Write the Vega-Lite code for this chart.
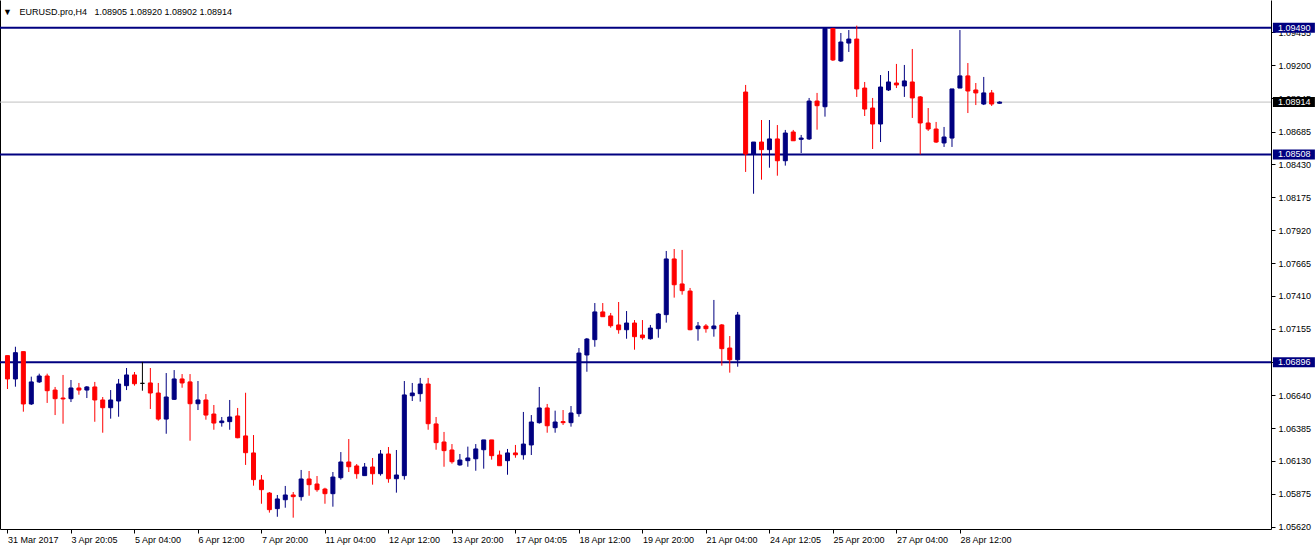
{
  "$schema": "https://vega.github.io/schema/vega-lite/v6.json",
  "width": 1271,
  "height": 529,
  "autosize": {"type": "none"},
  "padding": {"left": 0, "top": 0, "right": 44, "bottom": 25},
  "background": "white",
  "title": {
    "text": "▼\u00a0\u00a0 EURUSD.pro,H4\u00a0\u00a0 1.08905 1.08920 1.08902 1.08914",
    "anchor": "start",
    "frame": "group",
    "orient": "top",
    "offset": 0,
    "baseline": "alphabetic",
    "dy": 24,
    "dx": 3,
    "font": "Liberation Sans",
    "fontSize": 9,
    "fontWeight": "normal",
    "color": "#000000"
  },
  "config": {
    "view": {"stroke": null},
    "axis": {"labelFont": "Liberation Sans", "labelFontSize": 9, "labelColor": "#000000", "domainColor": "#000000", "tickColor": "#000000", "grid": false, "title": null}
  },
  "datasets": {
    "candles": [
      {"i":0,"o":1.06947,"h":1.06947,"l":1.06688,"c":1.06766},
      {"i":1,"o":1.06766,"h":1.07016,"l":1.06706,"c":1.06970},
      {"i":2,"o":1.06978,"h":1.06978,"l":1.06512,"c":1.06572},
      {"i":3,"o":1.06572,"h":1.06784,"l":1.06564,"c":1.06743},
      {"i":4,"o":1.06743,"h":1.06807,"l":1.06735,"c":1.06789},
      {"i":5,"o":1.06789,"h":1.06807,"l":1.06580,"c":1.06675},
      {"i":6,"o":1.06680,"h":1.06704,"l":1.06486,"c":1.06613},
      {"i":7,"o":1.06618,"h":1.06797,"l":1.06419,"c":1.06611},
      {"i":8,"o":1.06613,"h":1.06758,"l":1.06587,"c":1.06696},
      {"i":9,"o":1.06696,"h":1.06735,"l":1.06644,"c":1.06680},
      {"i":10,"o":1.06680,"h":1.06711,"l":1.06618,"c":1.06704},
      {"i":11,"o":1.06704,"h":1.06743,"l":1.06434,"c":1.06603},
      {"i":12,"o":1.06603,"h":1.06626,"l":1.06349,"c":1.06543},
      {"i":13,"o":1.06543,"h":1.06680,"l":1.06458,"c":1.06603},
      {"i":14,"o":1.06595,"h":1.06766,"l":1.06473,"c":1.06727},
      {"i":15,"o":1.06714,"h":1.06851,"l":1.06680,"c":1.06797},
      {"i":16,"o":1.06797,"h":1.06820,"l":1.06714,"c":1.06729},
      {"i":17,"o":1.06732,"h":1.06898,"l":1.06675,"c":1.06732},
      {"i":18,"o":1.06735,"h":1.06851,"l":1.06533,"c":1.06657},
      {"i":19,"o":1.06657,"h":1.06735,"l":1.06442,"c":1.06455},
      {"i":20,"o":1.06455,"h":1.06812,"l":1.06341,"c":1.06626},
      {"i":21,"o":1.06608,"h":1.06835,"l":1.06603,"c":1.06766},
      {"i":22,"o":1.06766,"h":1.06804,"l":1.06698,"c":1.06735},
      {"i":23,"o":1.06743,"h":1.06804,"l":1.06287,"c":1.06574},
      {"i":24,"o":1.06574,"h":1.06750,"l":1.06525,"c":1.06603},
      {"i":25,"o":1.06603,"h":1.06649,"l":1.06450,"c":1.06486},
      {"i":26,"o":1.06494,"h":1.06564,"l":1.06372,"c":1.06424},
      {"i":27,"o":1.06427,"h":1.06471,"l":1.06396,"c":1.06440},
      {"i":28,"o":1.06435,"h":1.06603,"l":1.06372,"c":1.06471},
      {"i":29,"o":1.06479,"h":1.06541,"l":1.06306,"c":1.06310},
      {"i":30,"o":1.06324,"h":1.06659,"l":1.06099,"c":1.06194},
      {"i":31,"o":1.06192,"h":1.06331,"l":1.05938,"c":1.05985},
      {"i":32,"o":1.05982,"h":1.06021,"l":1.05798,"c":1.05907},
      {"i":33,"o":1.05881,"h":1.05889,"l":1.05729,"c":1.05752},
      {"i":34,"o":1.05760,"h":1.05866,"l":1.05697,"c":1.05835},
      {"i":35,"o":1.05829,"h":1.05936,"l":1.05767,"c":1.05866},
      {"i":36,"o":1.05866,"h":1.05889,"l":1.05690,"c":1.05853},
      {"i":37,"o":1.05853,"h":1.06060,"l":1.05822,"c":1.05990},
      {"i":38,"o":1.05990,"h":1.06052,"l":1.05860,"c":1.05946},
      {"i":39,"o":1.05951,"h":1.06013,"l":1.05891,"c":1.05907},
      {"i":40,"o":1.05912,"h":1.05922,"l":1.05798,"c":1.05876},
      {"i":41,"o":1.05876,"h":1.06044,"l":1.05775,"c":1.06005},
      {"i":42,"o":1.06000,"h":1.06199,"l":1.05985,"c":1.06122},
      {"i":43,"o":1.06122,"h":1.06300,"l":1.06044,"c":1.06085},
      {"i":44,"o":1.06091,"h":1.06106,"l":1.05992,"c":1.06031},
      {"i":45,"o":1.06016,"h":1.06114,"l":1.06016,"c":1.06083},
      {"i":46,"o":1.06083,"h":1.06153,"l":1.05946,"c":1.06031},
      {"i":47,"o":1.06031,"h":1.06215,"l":1.06016,"c":1.06184},
      {"i":48,"o":1.06184,"h":1.06238,"l":1.05961,"c":1.05992},
      {"i":49,"o":1.05992,"h":1.06215,"l":1.05884,"c":1.06021},
      {"i":50,"o":1.06016,"h":1.06750,"l":1.05985,"c":1.06642},
      {"i":51,"o":1.06636,"h":1.06735,"l":1.06595,"c":1.06657},
      {"i":52,"o":1.06652,"h":1.06774,"l":1.06590,"c":1.06727},
      {"i":53,"o":1.06727,"h":1.06774,"l":1.06372,"c":1.06419},
      {"i":54,"o":1.06417,"h":1.06471,"l":1.06217,"c":1.06272},
      {"i":55,"o":1.06277,"h":1.06355,"l":1.06085,"c":1.06210},
      {"i":56,"o":1.06215,"h":1.06261,"l":1.06109,"c":1.06124},
      {"i":57,"o":1.06099,"h":1.06184,"l":1.06093,"c":1.06137},
      {"i":58,"o":1.06132,"h":1.06241,"l":1.06085,"c":1.06153},
      {"i":59,"o":1.06147,"h":1.06261,"l":1.06054,"c":1.06223},
      {"i":60,"o":1.06217,"h":1.06293,"l":1.06070,"c":1.06293},
      {"i":61,"o":1.06293,"h":1.06293,"l":1.06140,"c":1.06171},
      {"i":62,"o":1.06176,"h":1.06210,"l":1.06093,"c":1.06093},
      {"i":63,"o":1.06132,"h":1.06223,"l":1.06023,"c":1.06192},
      {"i":64,"o":1.06192,"h":1.06254,"l":1.06155,"c":1.06178},
      {"i":65,"o":1.06178,"h":1.06510,"l":1.06140,"c":1.06261},
      {"i":66,"o":1.06254,"h":1.06486,"l":1.06176,"c":1.06432},
      {"i":67,"o":1.06427,"h":1.06704,"l":1.06419,"c":1.06541},
      {"i":68,"o":1.06541,"h":1.06572,"l":1.06349,"c":1.06403},
      {"i":69,"o":1.06388,"h":1.06520,"l":1.06349,"c":1.06432},
      {"i":70,"o":1.06435,"h":1.06525,"l":1.06409,"c":1.06427},
      {"i":71,"o":1.06427,"h":1.06556,"l":1.06396,"c":1.06502},
      {"i":72,"o":1.06497,"h":1.07006,"l":1.06473,"c":1.06967},
      {"i":73,"o":1.06952,"h":1.07084,"l":1.06822,"c":1.07076},
      {"i":74,"o":1.07071,"h":1.07355,"l":1.07016,"c":1.07286},
      {"i":75,"o":1.07286,"h":1.07355,"l":1.07249,"c":1.07249},
      {"i":76,"o":1.07255,"h":1.07278,"l":1.07164,"c":1.07179},
      {"i":77,"o":1.07185,"h":1.07363,"l":1.07117,"c":1.07148},
      {"i":78,"o":1.07148,"h":1.07293,"l":1.07078,"c":1.07200},
      {"i":79,"o":1.07200,"h":1.07223,"l":1.06993,"c":1.07094},
      {"i":80,"o":1.07107,"h":1.07223,"l":1.07071,"c":1.07086},
      {"i":81,"o":1.07078,"h":1.07185,"l":1.07071,"c":1.07161},
      {"i":82,"o":1.07156,"h":1.07278,"l":1.07086,"c":1.07270},
      {"i":83,"o":1.07265,"h":1.07759,"l":1.07203,"c":1.07697},
      {"i":84,"o":1.07697,"h":1.07774,"l":1.07397,"c":1.07497},
      {"i":85,"o":1.07503,"h":1.07767,"l":1.07420,"c":1.07451},
      {"i":86,"o":1.07448,"h":1.07472,"l":1.07144,"c":1.07148},
      {"i":87,"o":1.07156,"h":1.07208,"l":1.07063,"c":1.07177},
      {"i":88,"o":1.07177,"h":1.07192,"l":1.07125,"c":1.07156},
      {"i":89,"o":1.07156,"h":1.07379,"l":1.07094,"c":1.07177},
      {"i":90,"o":1.07185,"h":1.07192,"l":1.06869,"c":1.07001},
      {"i":91,"o":1.07006,"h":1.07099,"l":1.06815,"c":1.06915},
      {"i":92,"o":1.06915,"h":1.07286,"l":1.06861,"c":1.07262},
      {"i":93,"o":1.08992,"h":1.09047,"l":1.08372,"c":1.08511},
      {"i":94,"o":1.08511,"h":1.08604,"l":1.08203,"c":1.08604},
      {"i":95,"o":1.08604,"h":1.08775,"l":1.08312,"c":1.08545},
      {"i":96,"o":1.08545,"h":1.08775,"l":1.08405,"c":1.08628},
      {"i":97,"o":1.08628,"h":1.08736,"l":1.08343,"c":1.08459},
      {"i":98,"o":1.08459,"h":1.08698,"l":1.08421,"c":1.08674},
      {"i":99,"o":1.08682,"h":1.08698,"l":1.08614,"c":1.08614},
      {"i":100,"o":1.08625,"h":1.08659,"l":1.08519,"c":1.08635},
      {"i":101,"o":1.08628,"h":1.08946,"l":1.08620,"c":1.08922},
      {"i":102,"o":1.08922,"h":1.08985,"l":1.08700,"c":1.08886},
      {"i":103,"o":1.08878,"h":1.09490,"l":1.08801,"c":1.09485},
      {"i":104,"o":1.09485,"h":1.09490,"l":1.09233,"c":1.09241},
      {"i":105,"o":1.09233,"h":1.09450,"l":1.09225,"c":1.09380},
      {"i":106,"o":1.09372,"h":1.09473,"l":1.09303,"c":1.09403},
      {"i":107,"o":1.09403,"h":1.09507,"l":1.08954,"c":1.09016},
      {"i":108,"o":1.09023,"h":1.09070,"l":1.08806,"c":1.08860},
      {"i":109,"o":1.08868,"h":1.08946,"l":1.08550,"c":1.08744},
      {"i":110,"o":1.08744,"h":1.09124,"l":1.08604,"c":1.09031},
      {"i":111,"o":1.09008,"h":1.09155,"l":1.09000,"c":1.09070},
      {"i":112,"o":1.09062,"h":1.09210,"l":1.09023,"c":1.09047},
      {"i":113,"o":1.09039,"h":1.09202,"l":1.08954,"c":1.09078},
      {"i":114,"o":1.09070,"h":1.09326,"l":1.08791,"c":1.08946},
      {"i":115,"o":1.08954,"h":1.08961,"l":1.08508,"c":1.08752},
      {"i":116,"o":1.08752,"h":1.08868,"l":1.08690,"c":1.08705},
      {"i":117,"o":1.08705,"h":1.08760,"l":1.08597,"c":1.08604},
      {"i":118,"o":1.08597,"h":1.08721,"l":1.08566,"c":1.08643},
      {"i":119,"o":1.08635,"h":1.09016,"l":1.08566,"c":1.09016},
      {"i":120,"o":1.09023,"h":1.09473,"l":1.09023,"c":1.09117},
      {"i":121,"o":1.09117,"h":1.09217,"l":1.08829,"c":1.09000},
      {"i":122,"o":1.09008,"h":1.09062,"l":1.08891,"c":1.08985},
      {"i":123,"o":1.08899,"h":1.09109,"l":1.08891,"c":1.08985},
      {"i":124,"o":1.08985,"h":1.09008,"l":1.08884,"c":1.08899},
      {"i":125,"o":1.08905,"h":1.08920,"l":1.08902,"c":1.08914}
    ],
    "levels": [
      {"p": 1.09490, "kind": "level", "label": "1.09490"},
      {"p": 1.08914, "kind": "bid", "label": "1.08914"},
      {"p": 1.08508, "kind": "level", "label": "1.08508"},
      {"p": 1.06896, "kind": "level", "label": "1.06896"}
    ]
  },
  "resolve": {"axis": {"y": "independent"}},
  "layer": [
    {
      "data": {"name": "levels"},
      "mark": {"type": "rule"},
      "encoding": {
        "y": {"field": "p", "type": "quantitative", "scale": {"domain": [1.05602, 1.09706], "nice": false, "zero": false}, "axis": null},
        "color": {"condition": {"test": "datum.kind == 'bid'", "value": "#c0c0c0"}, "value": "#000080"},
        "strokeWidth": {"condition": {"test": "datum.kind == 'bid'", "value": 1}, "value": 2}
      }
    },
    {
      "data": {"name": "candles"},
      "mark": {"type": "rule", "strokeWidth": 1},
      "encoding": {
        "x": {
          "field": "i", "type": "quantitative",
          "scale": {"domain": [-0.3125, 158.5625], "nice": false, "zero": false},
          "axis": {
            "orient": "bottom",
            "values": [0, 8, 16, 24, 32, 40, 48, 56, 64, 72, 80, 88, 96, 104, 112, 120],
            "labelExpr": "['31 Mar 2017','3 Apr 20:05','5 Apr 04:00','6 Apr 12:00','7 Apr 20:00','11 Apr 04:00','12 Apr 12:00','13 Apr 20:00','17 Apr 04:05','18 Apr 12:00','19 Apr 20:00','21 Apr 04:00','24 Apr 12:05','25 Apr 20:00','27 Apr 04:00','28 Apr 12:00'][round(datum.value / 8)]",
            "labelAlign": "left",
            "labelBaseline": "top",
            "labelPadding": 2,
            "tickSize": 4,
            "labelOverlap": false,
            "labelFlush": false,
            "labelBound": false,
            "title": null
          }
        },
        "y": {
          "field": "l", "type": "quantitative",
          "scale": {"domain": [1.05602, 1.09706], "nice": false, "zero": false},
          "axis": {
            "orient": "right",
            "values": [1.0562, 1.05875, 1.0613, 1.06385, 1.0664, 1.06895, 1.07155, 1.0741, 1.07665, 1.0792, 1.08175, 1.0843, 1.08685, 1.08945, 1.092, 1.09455],
            "format": ".5f",
            "tickSize": 4,
            "labelPadding": 3,
            "labelOverlap": false,
            "labelFlush": false,
            "labelBound": false,
            "title": null
          }
        },
        "y2": {"field": "h"},
        "color": {"condition": [{"test": "datum.c > datum.o", "value": "#000080"}, {"test": "datum.c < datum.o", "value": "#ff0000"}], "value": "#000000"}
      }
    },
    {
      "data": {"name": "candles"},
      "mark": {"type": "bar", "width": 4, "strokeWidth": 1},
      "encoding": {
        "x": {"field": "i", "type": "quantitative", "axis": {"title": null}},
        "y": {"field": "o", "type": "quantitative", "axis": {"orient": "left", "labels": false, "ticks": false, "domain": true, "title": null, "grid": false}},
        "y2": {"field": "c"},
        "fill": {"condition": [{"test": "datum.c > datum.o", "value": "#000080"}, {"test": "datum.c < datum.o", "value": "#ff0000"}], "value": "#000000"},
        "stroke": {"condition": [{"test": "datum.c > datum.o", "value": "#000080"}, {"test": "datum.c < datum.o", "value": "#ff0000"}], "value": "#000000"}
      }
    },
    {
      "data": {"name": "levels"},
      "mark": {"type": "point", "shape": "M-1,-0.238H1V0.238H-1Z", "size": 1764, "filled": true, "opacity": 1, "strokeWidth": 0, "xOffset": 22.9},
      "encoding": {
        "x": {"value": "width"},
        "y": {"field": "p", "type": "quantitative", "axis": null},
        "fill": {"condition": {"test": "datum.kind == 'bid'", "value": "#000000"}, "value": "#000080"}
      }
    },
    {
      "data": {"name": "levels"},
      "mark": {"type": "text", "align": "left", "baseline": "middle", "dx": 7, "font": "Liberation Sans", "fontSize": 9, "color": "#ffffff"},
      "encoding": {
        "x": {"value": "width"},
        "y": {"field": "p", "type": "quantitative", "axis": null},
        "text": {"field": "label"}
      }
    }
  ]
}
